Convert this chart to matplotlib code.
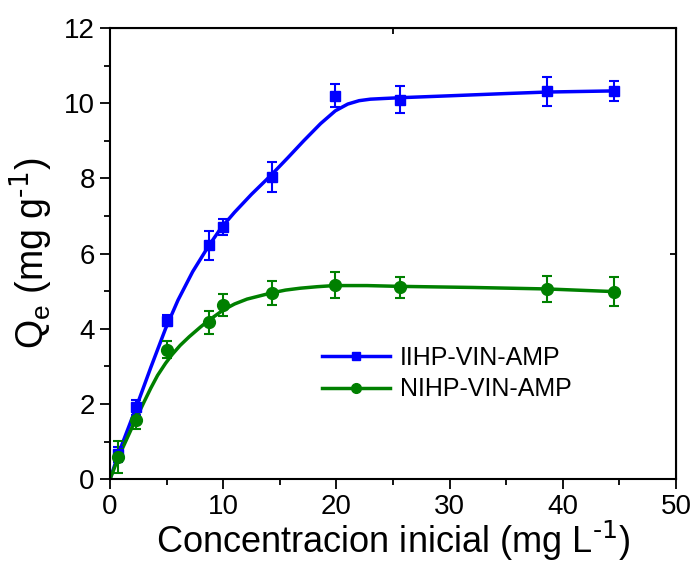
import matplotlib
matplotlib.use("Agg")
import matplotlib.pyplot as plt
from matplotlib.lines import Line2D

plt.rcParams["font.family"] = ["Liberation Sans", "DejaVu Sans"]
plt.rcParams["mathtext.default"] = "regular"

# Measured adsorption points
conc = [0.7, 2.3, 5.0, 8.7, 10.0, 14.3, 19.9, 25.6, 38.6, 44.5]

iihp_q = [0.66, 1.91, 4.22, 6.22, 6.71, 8.04, 10.20, 10.10, 10.32, 10.32]
iihp_err = [0.20, 0.20, 0.15, 0.39, 0.22, 0.41, 0.31, 0.36, 0.38, 0.27]

nihp_q = [0.59, 1.56, 3.44, 4.17, 4.63, 4.95, 5.16, 5.10, 5.06, 4.99]
nihp_err = [0.42, 0.22, 0.23, 0.30, 0.29, 0.33, 0.35, 0.27, 0.35, 0.38]

# Fitted curves (sampled along the smooth fit)
iihp_fit_x = [0.0, 0.8, 2.3, 3.6, 4.9, 6.0, 7.3, 8.7, 9.8, 11.0, 12.5, 14.2,
              15.7, 17.1, 18.6, 19.9, 21.0, 22.0, 23.0, 24.3, 25.7, 30.0,
              35.0, 38.6, 44.5]
iihp_fit_y = [0.0, 0.72, 1.90, 2.97, 4.00, 4.76, 5.52, 6.20, 6.68, 7.10, 7.58,
              8.08, 8.55, 9.00, 9.46, 9.80, 9.98, 10.07, 10.11, 10.13, 10.15,
              10.20, 10.26, 10.30, 10.33]

nihp_fit_x = [0.0, 0.8, 2.3, 3.0, 3.6, 4.2, 4.9, 5.5, 6.2, 7.0, 8.0, 8.7,
              10.0, 11.0, 12.1, 14.2, 15.5, 16.8, 18.3, 19.8, 22.7, 25.4,
              32.0, 38.6, 44.5]
nihp_fit_y = [0.0, 0.62, 1.61, 2.05, 2.42, 2.76, 3.08, 3.32, 3.56, 3.79, 4.05,
              4.22, 4.50, 4.66, 4.79, 4.95, 5.03, 5.08, 5.12, 5.15, 5.15, 5.13,
              5.10, 5.06, 4.99]

BLUE = "#0000ff"
GREEN = "#008000"

fig = plt.figure(figsize=(6.92, 5.63), dpi=100)
ax = fig.add_axes([0.159, 0.149, 0.818, 0.801])

ax.plot(iihp_fit_x, iihp_fit_y, color=BLUE, lw=2.5, solid_capstyle="round",
        solid_joinstyle="round", zorder=2)
ax.plot(nihp_fit_x, nihp_fit_y, color=GREEN, lw=2.5, solid_capstyle="round",
        solid_joinstyle="round", zorder=2)

ax.errorbar(conc, iihp_q, yerr=iihp_err, fmt="s", color=BLUE, ms=7,
            ecolor=BLUE, elinewidth=1.5, capsize=3.5, capthick=1.5, zorder=3)
ax.errorbar(conc, nihp_q, yerr=nihp_err, fmt="o", color=GREEN, ms=8.5,
            ecolor=GREEN, elinewidth=1.5, capsize=3.5, capthick=1.5, zorder=3)

ax.set_xlim(0, 50)
ax.set_ylim(0, 12)
ax.set_xticks([0, 10, 20, 30, 40, 50])
ax.set_xticks([5, 15, 25, 35, 45], minor=True)
ax.set_yticks([0, 2, 4, 6, 8, 10, 12])
ax.set_yticks([1, 3, 5, 7, 9, 11], minor=True)
ax.tick_params(which="major", direction="out", length=7, width=1.3,
               labelsize=20, pad=4)
ax.tick_params(which="minor", direction="out", length=4, width=1.3)
for sp in ax.spines.values():
    sp.set_linewidth(1.5)

# single inward ticks on the top and right frame
top = ax.secondary_xaxis("top")
top.set_xticks([25])
top.tick_params(direction="in", length=4, width=1.3, labeltop=False)
right = ax.secondary_yaxis("right")
right.set_yticks([6])
right.tick_params(direction="in", length=4, width=1.3, labelright=False)

ax.set_xlabel(r"Concentracion inicial (mg L$^{\text{-1}}$)", fontsize=26,
              labelpad=-1)
ax.set_ylabel(r"Q$_{e}$ (mg g$^{\text{-1}}$)", fontsize=27, labelpad=6)

handles = [
    Line2D([], [], color=BLUE, lw=2.5, marker="s", ms=6),
    Line2D([], [], color=GREEN, lw=2.5, marker="o", ms=7),
]
ax.legend(handles, ["IIHP-VIN-AMP", "NIHP-VIN-AMP"], loc="center left",
          bbox_to_anchor=(0.375, 0.234), frameon=False, fontsize=18,
          handlelength=2.7, handletextpad=0.4, labelspacing=0.3,
          borderpad=0, borderaxespad=0)

fig.savefig("out.png", dpi=100)
